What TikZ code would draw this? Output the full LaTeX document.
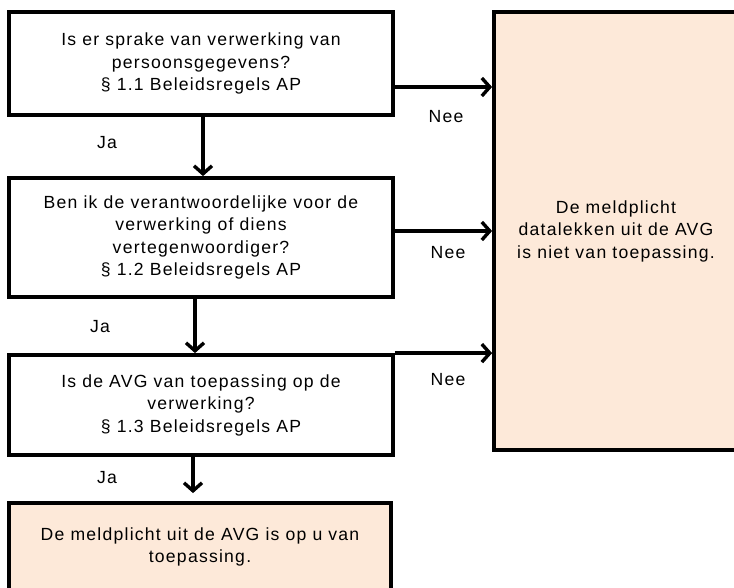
\documentclass[tikz,border=0pt]{standalone}
\usepackage{fontspec}
\setmainfont{Liberation Sans}[LetterSpace=7]
\usetikzlibrary{arrows.meta,calc}
\definecolor{peach}{HTML}{FDE9D9}
\begin{document}
\begin{tikzpicture}[x=1pt,y=-1pt,
  box/.style={draw=black,line width=3.8pt,inner sep=0pt,font=\fontsize{17.6}{22.5}\selectfont,align=center},
  endbox/.style={box,fill=peach},
  lbl/.style={font=\fontsize{17.6}{18}\selectfont,inner sep=0pt},
  arr/.style={line width=3.4pt,-{Straight Barb[length=8pt,width=18pt,line width=3.4pt]}}]
\useasboundingbox (0,0) rectangle (734,587);
\begin{scope}
\clip (0,0) rectangle (734,587);
\node[box,minimum width=384pt,minimum height=103pt] (b1) at (201,63.5)
  {Is er sprake van verwerking van\\persoonsgegevens?\\\S\ 1.1 Beleidsregels AP};
\node[box,minimum width=384pt,minimum height=119pt] (b2) at (201,237.5)
  {Ben ik de verantwoordelijke voor de\\verwerking of diens\\vertegenwoordiger?\\\S\ 1.2 Beleidsregels AP};
\node[box,minimum width=384pt,minimum height=100pt] (b3) at (201,405)
  {Is de AVG van toepassing op de\\verwerking?\\\S\ 1.3 Beleidsregels AP};
\node[endbox,minimum width=382pt,minimum height=88pt] (b4) at (200,547)
  {De meldplicht uit de AVG is op u van\\toepassing.};
\node[endbox,minimum width=244pt,minimum height=438pt] (r) at (616,231)
  {De meldplicht\\datalekken uit de AVG\\is niet van toepassing.};
\end{scope}
\draw[arr] (b1.east |- 0,87) coordinate (s1) -- (s1 -| r.west);
\draw[arr] (b2.east |- 0,231) coordinate (s2) -- (s2 -| r.west);
\draw[arr] (b3.north east) -- (b3.north east -| r.west);
\draw[arr] ([xshift=2pt]b1.south) -- ([xshift=2pt]b2.north);
\draw[arr] ([xshift=-6pt]b2.south) -- ([xshift=-6pt]b3.north);
\draw[arr,shorten >=8pt] ([xshift=-8pt]b3.south) -- ([xshift=-8pt]b3.south |- b4.north);
\node[lbl] (n1) at (446,117) {Nee};
\node[lbl] (n2) at (448,253) {Nee};
\node[lbl] (n3) at (448,380) {Nee};
\node[lbl] (j1) at (107,143) {Ja};
\node[lbl] (j2) at (100,327) {Ja};
\node[lbl] (j3) at (107,478) {Ja};
\end{tikzpicture}
\end{document}
